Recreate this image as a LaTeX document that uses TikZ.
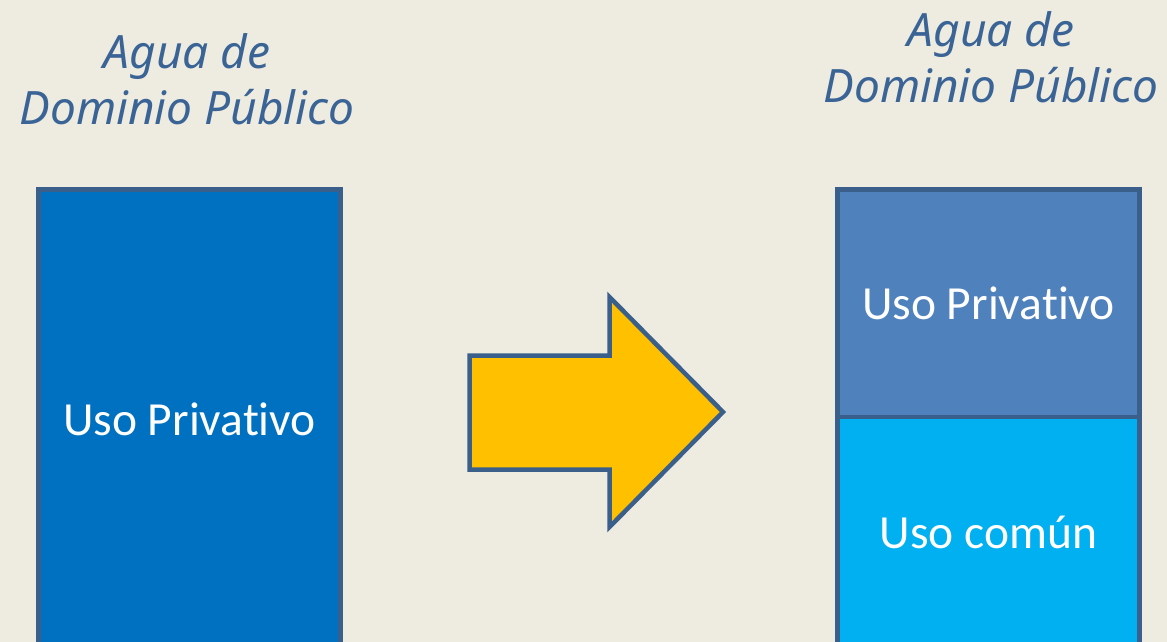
\documentclass[tikz,border=0pt]{standalone}
\usepackage{fontspec}
\setmainfont[Ligatures=NoCommon]{Carlito}
\newfontfamily\titlefont{Noto Sans}
\usetikzlibrary{positioning}
\definecolor{fondo}{HTML}{EEEBE0}
\definecolor{borde}{HTML}{3A5F8B}
\definecolor{titulo}{HTML}{3A6496}
\definecolor{privA}{HTML}{0070C0}
\definecolor{privB}{HTML}{4F81BD}
\definecolor{comun}{HTML}{00B0F0}
\definecolor{flecha}{HTML}{FFC000}
\begin{document}
\begin{tikzpicture}[x=1pt,y=-1pt,
  usobox/.style={draw=borde, line width=4.5pt, rectangle, minimum width=302pt,
    outer sep=0pt, text=white, font=\fontsize{47.5}{52}\selectfont},
  titletext/.style={text=titulo, anchor=base, inner sep=0pt,
    font=\titlefont\itshape\fontsize{46}{52}\selectfont}]
\fill[fondo] (0,0) rectangle (1167,642);
\clip (0,0) rectangle (1167,642);
% antes
\node[usobox, fill=privA, minimum height=460.5pt] (privado) at (189.5,419.75) {Uso Privativo};
\node[titletext] (aguaL) at (187,68) {Agua de};
\node[titletext] (dominioL) at (187,124) {Dominio Público};
% despues
\node[usobox, fill=privB, minimum height=227.5pt] (privado2) at (988.5,303.25) {Uso Privativo};
\node[usobox, fill=comun, minimum height=230pt, below=0pt of privado2] (comun) {Uso común};
\node[titletext] (aguaR) at (991,47) {Agua de};
\node[titletext] (dominioR) at (991,102) {Dominio Público};
% flecha
\draw[borde, fill=flecha, line width=4.5pt] (469.5,355.5) -- (609.5,355.5) -- (609.5,297)
  -- (723,412) -- (609.5,527) -- (609.5,469.5) -- (469.5,469.5) -- cycle;
\end{tikzpicture}
\end{document}
